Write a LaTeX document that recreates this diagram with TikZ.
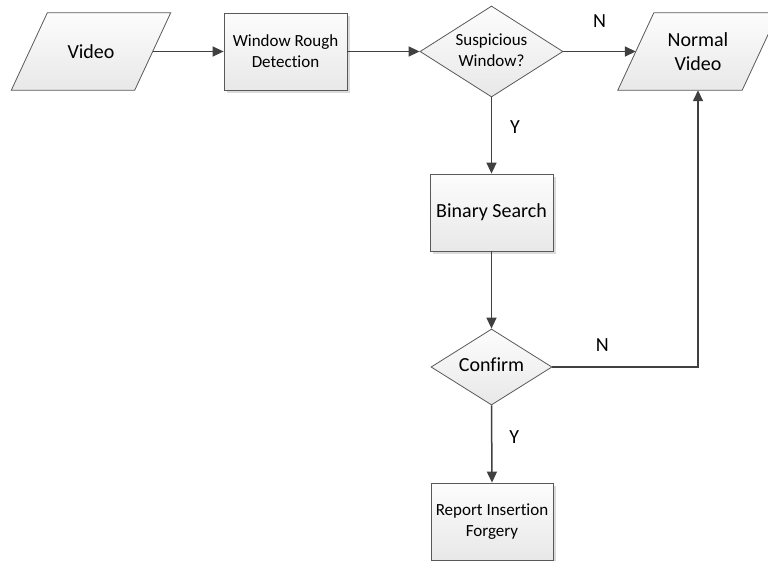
\documentclass[tikz,border=0pt]{standalone}
\usepackage{fontspec}
\setmainfont{Carlito}[Ligatures={NoCommon,NoRare,NoContextual},Contextuals=NoAlternate]
\usetikzlibrary{arrows.meta,shapes.geometric,shadows,backgrounds}
\newcommand\zw[1]{\makebox[0pt]{\begin{tabular}{@{}c@{}}#1\end{tabular}}}
\definecolor{linec}{HTML}{404040}
\definecolor{borderc}{HTML}{595959}
\tikzset{
  bigtext/.style={font=\fontsize{20}{24}\selectfont},
  smalltext/.style={font=\fontsize{17}{21}\selectfont},
  shapefill/.style={draw=borderc, line width=0.8pt, top color=black!1, bottom color=black!9},
  box/.style={shapefill, rectangle, minimum width=123pt, minimum height=77pt, inner sep=0pt, align=center,
    drop shadow={shadow xshift=3pt, shadow yshift=-3pt, fill=black!14, opacity=1}},
  para/.style={rectangle, minimum width=123pt, minimum height=77pt, inner sep=0pt, align=center},
  dia/.style={shapefill, diamond, inner sep=0pt},
  arr/.style={draw=linec, line width=1.5pt, -{Triangle[length=11pt,width=10pt]}},
  lab/.style={bigtext, text=black},
}
\begin{document}
\begin{tikzpicture}[x=1pt,y=-1pt]
\useasboundingbox (0,0) rectangle (768,560);
% nodes
\node[para, bigtext] (video) at (91,51.5) {Video};
\node[box, smalltext] (wrd) at (285.5,51.5) {Window Rough\\Detection};
\node[dia, smalltext, minimum width=143pt, minimum height=91pt] (sus) at (491.5,51.5) {\zw{Suspicious\\Window?}};
\node[para, bigtext, minimum width=124pt] (normal) at (698,51.5) {Normal\\Video};
\node[box, bigtext] (bs) at (491.5,212.5) {Binary Search};
\node[dia, bigtext, minimum width=121pt, minimum height=76pt] (conf) at (491.5,367) {\zw{Confirm}};
\node[box, smalltext, minimum width=122pt] (rep) at (492,521.5) {Report Insertion\\Forgery};
% parallelogram outlines
\begin{scope}[on background layer]
\path[shapefill] ([xshift=18pt]video.north west) -- ([xshift=18pt]video.north east)
  -- ([xshift=-18pt]video.south east) -- ([xshift=-18pt]video.south west) -- cycle;
\path[shapefill] ([xshift=18pt]normal.north west) -- ([xshift=18pt]normal.north east)
  -- ([xshift=-18pt]normal.south east) -- ([xshift=-18pt]normal.south west) -- cycle;
\end{scope}
% connectors
\draw[arr] (video.east) -- (wrd.west);
\draw[arr] (wrd.east) -- (sus.west);
\draw[arr] (sus.east) -- node[lab, midway, yshift=30.5pt] {N} (normal.west);
\draw[arr] (sus.south) -- node[lab, midway, xshift=23.5pt, yshift=8.5pt] {Y} (bs.north);
\draw[arr] (bs.south) -- (conf.north);
\draw[arr] (conf.east) -| node[lab, pos=0.171, yshift=22pt] {N} (normal.south);
\draw[arr] (conf.south) -- node[lab, midway, xshift=22.5pt, yshift=7pt] {Y} (rep.north);
\end{tikzpicture}
\end{document}
